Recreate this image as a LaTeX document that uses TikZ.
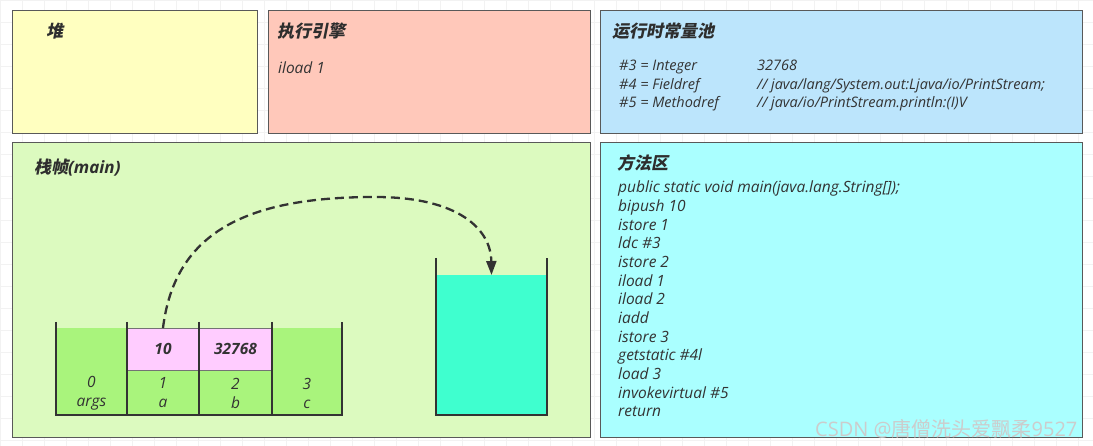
\documentclass[tikz,border=0pt]{standalone}
\usepackage{fontspec}
\setmainfont{Open Sans}
\newfontfamily\cjk{Noto Sans CJK SC}[FakeSlant=0.2]
\newfontfamily\cjkup{Noto Sans CJK SC}
\usetikzlibrary{arrows.meta,positioning}
\definecolor{heapY}{HTML}{FFFFC0}
\definecolor{execR}{HTML}{FFC8BA}
\definecolor{poolB}{HTML}{BCE5FC}
\definecolor{frameG}{HTML}{DCFABF}
\definecolor{methC}{HTML}{AAFFFF}
\definecolor{slotG}{HTML}{A9F47C}
\definecolor{valP}{HTML}{FFCCFF}
\definecolor{opC}{HTML}{3FFFCF}
\definecolor{ink}{HTML}{333333}
\tikzset{
  pane/.style={draw=black!65, line width=1pt, anchor=north west, inner sep=0pt},
  ttl/.style={font=\fontsize{17}{20}\selectfont\bfseries\itshape, text=ink!90!black, anchor=west, inner sep=0pt},
  txt/.style={font=\fontsize{15.5}{18}\selectfont\itshape, text=ink, anchor=west, inner sep=0pt,
    text height=11pt, text depth=3.5pt},
  ptxt/.style={txt, font=\fontsize{14.5}{17}\selectfont\itshape},
  slot/.style={fill=slotG, minimum height=87pt, inner sep=0pt, outer sep=0pt},
  val/.style={fill=valP, draw=black!55, line width=0.6pt, minimum height=42pt, inner sep=0pt, outer sep=0pt,
    font=\fontsize{15.5}{18}\selectfont\bfseries\itshape, text=ink},
  idx/.style={font=\fontsize{15.5}{19}\selectfont\itshape, text=ink, align=center, inner sep=0pt},
  wall/.style={draw=ink, line width=2pt},
  flow/.style={draw=ink, line width=2.3pt, dash pattern=on 9pt off 5pt,
    -{Triangle[length=14pt,width=10pt]}},
}

\begin{document}
\begin{tikzpicture}[x=1pt,y=-1pt]
\useasboundingbox (0,0) rectangle (1093,446);

% ===================== faint background grid ==================================
\foreach \gx in {0,22,...,1093} \draw[black!5, line width=0.5pt] (\gx,0) -- (\gx,446);
\foreach \gy in {0,22,...,446} \draw[black!5, line width=0.5pt] (0,\gy) -- (1093,\gy);

% ===================== top row ================================================
\node[pane, fill=heapY, minimum width=245pt, minimum height=123pt] (heap) at (12,10) {};
\node[pane, fill=execR, minimum width=322pt, minimum height=123pt] (exec) at (268,10) {};
\node[pane, fill=poolB, minimum width=482pt, minimum height=123pt] (pool) at (600,10) {};
\node[ttl] (heapT) at ([xshift=34pt,yshift=-21pt]heap.north west) {\cjk 堆};
\node[ttl] (execT) at ([xshift=9pt,yshift=-21pt]exec.north west) {\cjk 执行引擎};
\node[txt] (execI) at ([xshift=10pt,yshift=-60pt]exec.north west) {iload 1};
\node[ttl] (poolT) at ([xshift=12pt,yshift=-21pt]pool.north west) {\cjk 运行时常量池};
\node[ptxt] (c3) at ([xshift=19pt,yshift=-57pt]pool.north west) {\#3 = Integer};
\node[ptxt] (c4) at ([xshift=19pt,yshift=-75.5pt]pool.north west) {\#4 = Fieldref};
\node[ptxt] (c5) at ([xshift=19pt,yshift=-94pt]pool.north west) {\#5 = Methodref};
\node[ptxt] (v3) at ([xshift=157pt,yshift=-57pt]pool.north west) {32768};
\node[ptxt] (v4) at ([xshift=157pt,yshift=-75.5pt]pool.north west) {// java/lang/System.out:Ljava/io/PrintStream;};
\node[ptxt] (v5) at ([xshift=157pt,yshift=-94pt]pool.north west) {// java/io/PrintStream.println:(I)V};

% ===================== stack frame ============================================
\node[pane, fill=frameG, minimum width=578pt, minimum height=295pt] (frame) at (12,142) {};
\node[ttl] (frameT) at ([xshift=22pt,yshift=-26pt]frame.north west) {{\cjk 栈帧}(main)};

% local variable table
\node[slot, minimum width=71pt, anchor=north west] (slot0) at (56,328) {};
\node[slot, minimum width=72pt, right=0pt of slot0] (slot1) {};
\node[slot, minimum width=73pt, right=0pt of slot1] (slot2) {};
\node[slot, minimum width=70pt, right=0pt of slot2] (slot3) {};
\node[val, minimum width=72pt, anchor=north west] (val1) at (slot1.north west) {10};
\node[val, minimum width=73pt, right=0pt of val1] (val2) {32768};
\node[idx] (idx0) at ([yshift=22pt]slot0.south) {0\\args};
\node[idx] (idx1) at ([yshift=22pt]slot1.south) {1\\a};
\node[idx] (idx2) at ([yshift=22pt]slot2.south) {2\\b};
\node[idx] (idx3) at ([yshift=22pt]slot3.south) {3\\c};
\draw[wall] ([yshift=6pt]slot0.north west) -- (slot0.south west) -- (slot3.south east)
  -- ([yshift=6pt]slot3.north east);
\foreach \s in {slot1,slot2,slot3}
  \draw[wall] ([yshift=6pt]\s.north west) -- (\s.south west);

% operand stack
\node[fill=opC, minimum width=111pt, minimum height=140pt, inner sep=0pt, outer sep=0pt,
  anchor=north west] (opfill) at (436,275) {};
\draw[wall] ([yshift=17pt]opfill.north west) -- (opfill.south west) -- (opfill.south east)
  -- ([yshift=17pt]opfill.north east);

% iload 1 : value of slot 1 pushed on the operand stack
\coordinate (peak) at (375,197);
\draw[flow] (val1.north) .. controls (175,230) and (250,197) .. (peak)
  .. controls (460,197) and (491,230) .. (opfill.north);

% ===================== method area ============================================
\node[pane, fill=methC, minimum width=482pt, minimum height=295pt] (meth) at (600,142) {};
\node[ttl] (methT) at ([xshift=17pt,yshift=-21pt]meth.north west) {\cjk 方法区};
\foreach \ins [count=\i from 0] in {{public static void main(java.lang.String[]);},
  bipush 10, istore 1, ldc \#3, istore 2, iload 1, iload 2, iadd, istore 3,
  getstatic \#4l, load 3, invokevirtual \#5, return}
  \node[txt] (ins\i) at (618,189+18.67*\i) {\ins};

\node[font=\fontsize{20}{22}\selectfont, text=white!80!black, anchor=west, inner sep=0pt]
  (mark) at (815,429) {CSDN @{\cjkup 唐僧洗头爱飘柔}9527};

\end{tikzpicture}
\end{document}
